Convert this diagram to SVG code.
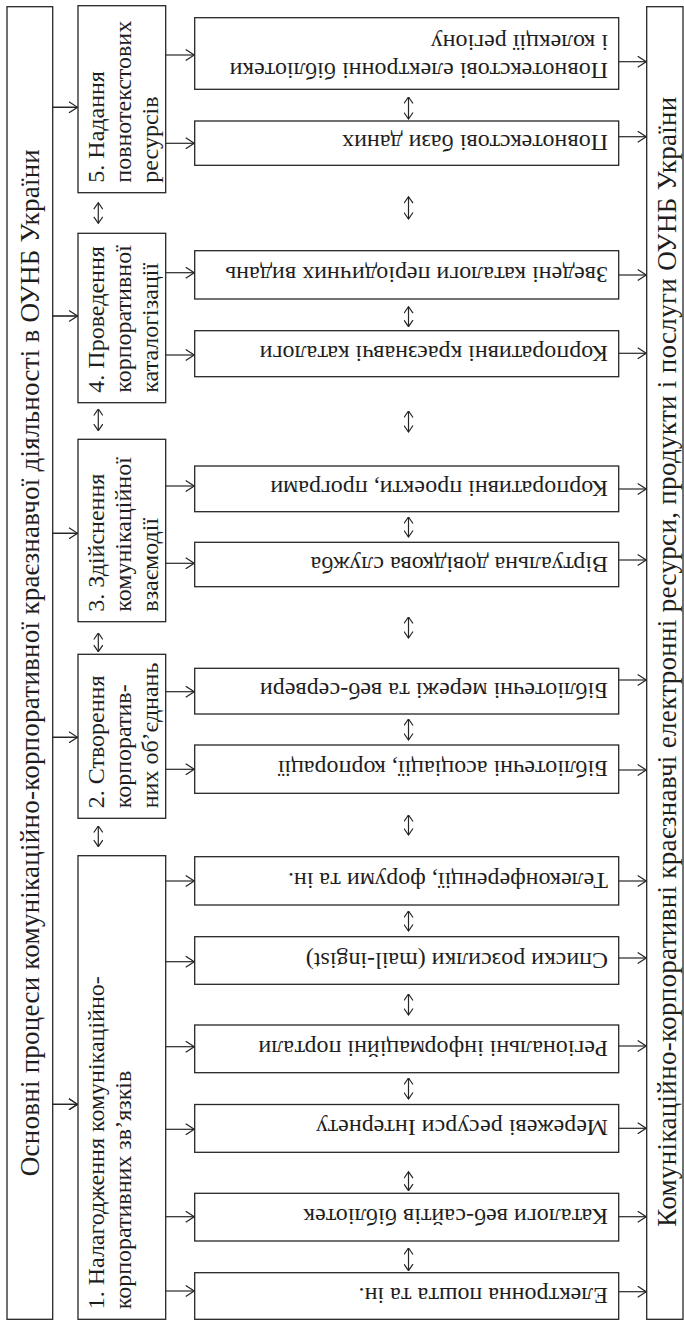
<svg xmlns="http://www.w3.org/2000/svg" width="684" height="1321" viewBox="0 0 684 1321">
<style>
.box{fill:#fff;stroke:#262626;stroke-width:1.3}
.t{font-family:"Liberation Serif","Times New Roman",serif;fill:#1e1e1e}
.big{font-size:27px}
.p{font-size:24px}
.m{font-size:24px}
.ln{stroke:#262626;stroke-width:1.2;fill:none}
</style>
<defs>
<marker id="ah" viewBox="0 0 10 12" refX="9.5" refY="6" markerWidth="10" markerHeight="12" markerUnits="userSpaceOnUse" orient="auto">
<path d="M1,0.5 L9.5,6 L1,11.5" fill="none" stroke="#262626" stroke-width="1.2"/>
</marker>
<marker id="dh" viewBox="0 0 8 10" refX="7.5" refY="5" markerWidth="8" markerHeight="10" markerUnits="userSpaceOnUse" orient="auto-start-reverse">
<path d="M1,0.5 L7.5,5 L1,9.5" fill="none" stroke="#262626" stroke-width="1.2"/>
</marker>
</defs>

<rect width="684" height="1321" fill="#fff"/>

<g id="main-processes">
<rect class="box" x="7" y="6.7" width="45.7" height="1312.6"/>
<text class="t big" transform="rotate(-90)" x="-662.7" y="38.5" text-anchor="middle" textLength="1027" lengthAdjust="spacing">Основні процеси комунікаційно-корпоративної краєзнавчої діяльності в ОУНБ України</text>
</g>

<g id="results">
<rect class="box" x="646.7" y="6.7" width="36.3" height="1312.6"/>
<text class="t big" transform="rotate(-90)" x="-661.7" y="676" text-anchor="middle" textLength="1130" lengthAdjust="spacing">Комунікаційно-корпоративні краєзнавчі електронні ресурси, продукти і послуги ОУНБ України</text>
</g>

<g id="proc5">
<rect class="box" x="78" y="5.7" width="87.7" height="187"/>
<text class="t p" transform="rotate(-90)"><tspan x="-182.7" y="103.5">5. Надання</tspan><tspan x="-182.7" y="130.5">повнотекстових</tspan><tspan x="-182.7" y="157.5">ресурсів</tspan></text>
</g>
<g id="proc4">
<rect class="box" x="78" y="233.3" width="87.7" height="169.4"/>
<text class="t p" transform="rotate(-90)"><tspan x="-392.7" y="103.5">4. Проведення</tspan><tspan x="-392.7" y="130.5">корпоративної</tspan><tspan x="-392.7" y="157.5">каталогізації</tspan></text>
</g>
<g id="proc3">
<rect class="box" x="78" y="439.3" width="87.7" height="182.4"/>
<text class="t p" transform="rotate(-90)"><tspan x="-611.7" y="103.5">3. Здійснення</tspan><tspan x="-611.7" y="130.5">комунікаційної</tspan><tspan x="-611.7" y="157.5">взаємодії</tspan></text>
</g>
<g id="proc2">
<rect class="box" x="78" y="654.3" width="87.7" height="164"/>
<text class="t p" transform="rotate(-90)"><tspan x="-808.3" y="103.5">2. Створення</tspan><tspan x="-808.3" y="130.5">корпоратив-</tspan><tspan x="-808.3" y="157.5">них об’єднань</tspan></text>
</g>
<g id="proc1">
<rect class="box" x="78" y="855.7" width="87.7" height="463.6"/>
<text class="t p" transform="rotate(-90)"><tspan x="-1309.3" y="103.5">1. Налагодження комунікаційно-</tspan><tspan x="-1309.3" y="130.5">корпоративних зв’язків</tspan></text>
</g>

<g id="r1">
<rect class="box" x="194.7" y="17.7" width="424" height="71.6"/>
<text class="t m" transform="rotate(180)"><tspan x="-608" y="-62.5">Повнотекстові електронні бібліотеки</tspan><tspan x="-608" y="-34.5">і колекції регіону</tspan></text>
</g>
<g id="r2">
<rect class="box" x="194.7" y="121" width="424" height="44.3"/>
<text class="t m" transform="rotate(180)" x="-608" y="-135.2">Повнотекстові бази даних</text>
</g>
<g id="r3">
<rect class="box" x="194.7" y="250.7" width="424" height="48.3"/>
<text class="t m" transform="rotate(180)" x="-608" y="-266.9">Зведені каталоги періодичних видань</text>
</g>
<g id="r4">
<rect class="box" x="194.7" y="330.7" width="424" height="46"/>
<text class="t m" transform="rotate(180)" x="-608" y="-345.7">Корпоративні краєзнавчі каталоги</text>
</g>
<g id="r5">
<rect class="box" x="194.7" y="466" width="424" height="45.7"/>
<text class="t m" transform="rotate(180)" x="-608" y="-480.9">Корпоративні проекти, програми</text>
</g>
<g id="r6">
<rect class="box" x="194.7" y="542.3" width="424" height="44.4"/>
<text class="t m" transform="rotate(180)" x="-608" y="-556.5">Віртуальна довідкова служба</text>
</g>
<g id="r7">
<rect class="box" x="194.7" y="668.3" width="424" height="45.7"/>
<text class="t m" transform="rotate(180)" x="-608" y="-683.2">Бібліотечні мережі та веб-сервери</text>
</g>
<g id="r8">
<rect class="box" x="194.7" y="745" width="424" height="48.3"/>
<text class="t m" transform="rotate(180)" x="-608" y="-761.2">Бібліотечні асоціації, корпорації</text>
</g>
<g id="r9">
<rect class="box" x="194.7" y="856.7" width="424" height="48.3"/>
<text class="t m" transform="rotate(180)" x="-608" y="-872.9">Телеконференції, форуми та ін.</text>
</g>
<g id="r10">
<rect class="box" x="194.7" y="936.7" width="424" height="47.6"/>
<text class="t m" transform="rotate(180)" x="-608" y="-952.5">Списки розсилки (mail-ingist)</text>
</g>
<g id="r11">
<rect class="box" x="194.7" y="1025" width="424" height="47.7"/>
<text class="t m" transform="rotate(180)" x="-608" y="-1040.9">Регіональні інформаційні портали</text>
</g>
<g id="r12">
<rect class="box" x="194.7" y="1104.5" width="424" height="47.8"/>
<text class="t m" transform="rotate(180)" x="-608" y="-1120.4">Мережеві ресурси Інтернету</text>
</g>
<g id="r13">
<rect class="box" x="194.7" y="1193.3" width="424" height="47.7"/>
<text class="t m" transform="rotate(180)" x="-608" y="-1209.2">Каталоги веб-сайтів бібліотек</text>
</g>
<g id="r14">
<rect class="box" x="194.7" y="1272.7" width="424" height="46.6"/>
<text class="t m" transform="rotate(180)" x="-608" y="-1288">Електронна пошта та ін.</text>
</g>

<g id="connectors" class="ln">
<path marker-end="url(#ah)" d="M52.7,107.3H77.5M52.7,316H77.5M52.7,533.3H77.5M52.7,737.3H77.5M52.7,1104.3H77.5"/>
<g marker-end="url(#ah)">
<path d="M166,55H194.2"/><path d="M166,143.3H194.2"/><path d="M166,272.7H194.2"/><path d="M166,355H194.2"/><path d="M166,486H194.2"/><path d="M166,563.3H194.2"/><path d="M166,691.7H194.2"/><path d="M166,769.3H194.2"/><path d="M166,881H194.2"/><path d="M166,961.7H194.2"/><path d="M166,1046.7H194.2"/><path d="M166,1129.3H194.2"/><path d="M166,1216.7H194.2"/><path d="M166,1291H194.2"/>
<path d="M52.7,107.3H77.5"/><path d="M52.7,316H77.5"/><path d="M52.7,533.3H77.5"/><path d="M52.7,737.3H77.5"/><path d="M52.7,1104.3H77.5"/>
<path d="M619,61.7H646.2"/><path d="M619,136.7H646.2"/><path d="M619,275H646.2"/><path d="M619,353.3H646.2"/><path d="M619,489H646.2"/><path d="M619,560H646.2"/><path d="M619,680H646.2"/><path d="M619,770H646.2"/><path d="M619,881H646.2"/><path d="M619,958H646.2"/><path d="M619,1046H646.2"/><path d="M619,1128.3H646.2"/><path d="M619,1216.7H646.2"/><path d="M619,1291.7H646.2"/>
</g>
<g marker-start="url(#dh)" marker-end="url(#dh)">
<path d="M98.3,202.7V223.3"/><path d="M98.3,409V430.7"/><path d="M98.3,633V651.7"/><path d="M98.3,826V846.7"/>
<path d="M408.5,97V119"/><path d="M408.5,196.7V219"/><path d="M408.5,306.7V326.7"/><path d="M408.5,411V432"/><path d="M408.5,517V537"/><path d="M408.5,617V638"/><path d="M408.5,719V740"/><path d="M408.5,815V835"/><path d="M408.5,911V931"/><path d="M408.5,994V1015"/><path d="M408.5,1078V1099"/><path d="M408.5,1171.7V1190.7"/><path d="M408.5,1248V1270.7"/>
</g>
</g>
</svg>
